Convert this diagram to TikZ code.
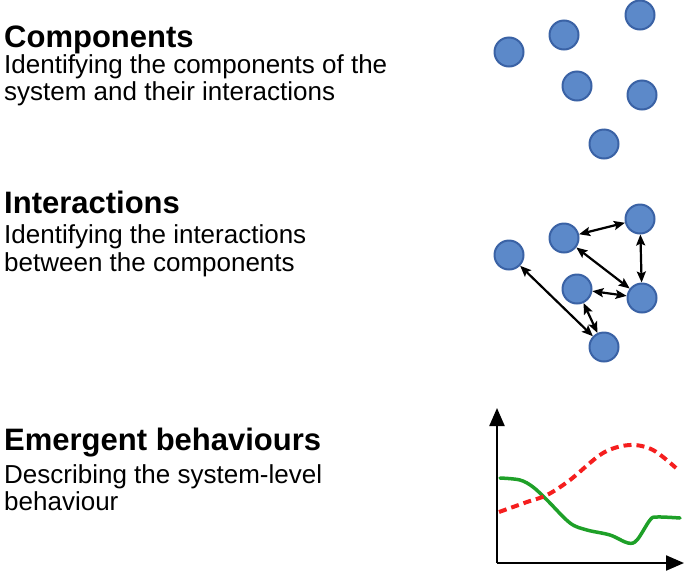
\documentclass[tikz,border=0pt]{standalone}
\usepackage{fontspec}
\setmainfont{Liberation Sans}
\usetikzlibrary{arrows.meta}
\definecolor{nodefill}{RGB}{92,137,201}
\definecolor{nodeedge}{RGB}{58,98,165}
\definecolor{curvegreen}{RGB}{30,160,40}
\definecolor{curvered}{RGB}{245,30,30}
\begin{document}
\begin{tikzpicture}[x=1pt,y=-1pt,
  heading/.style={anchor=base west,inner sep=0pt,font=\fontsize{31}{31}\selectfont\bfseries},
  bodyline/.style={anchor=base west,inner sep=0pt,font=\fontsize{26}{27}\selectfont},
  comp/.style={circle,fill=nodefill,draw=nodeedge,line width=2pt,minimum size=29pt,inner sep=0pt},
  link/.style={{Stealth[length=11pt,width=9pt,inset=2pt]}-{Stealth[length=11pt,width=9pt,inset=2pt]},line width=2.2pt,black},
  axis/.style={-{Triangle[length=18pt,width=15pt]},line width=2.2pt,black}]
\useasboundingbox (0,0) rectangle (685,571);
% text
\node[heading] (h1) at (4,47) {Components};
\node[bodyline] (b1a) at (4,73) {Identifying the components of the};
\node[bodyline] (b1b) at (4,100) {system and their interactions};
\node[heading] (h2) at (4,213) {Interactions};
\node[bodyline] (b2a) at (4,243) {Identifying the interactions};
\node[bodyline] (b2b) at (4,271) {between the components};
\node[heading] (h3) at (4,450) {Emergent behaviours};
\node[bodyline] (b3a) at (4,483) {Describing the system-level};
\node[bodyline] (b3b) at (4,510) {behaviour};
% components
\node[comp] (c1) at (509,52) {};
\node[comp] (c2) at (564,35) {};
\node[comp] (c3) at (640,15) {};
\node[comp] (c4) at (577,86) {};
\node[comp] (c5) at (642,95) {};
\node[comp] (c6) at (604,144) {};
% interactions
\node[comp] (d1) at (509,255) {};
\node[comp] (d2) at (564,238) {};
\node[comp] (d3) at (640,219) {};
\node[comp] (d4) at (577,289) {};
\node[comp] (d5) at (642,298) {};
\node[comp] (d6) at (604,347) {};
\draw[link] (d2) -- (d3);
\draw[link] (d3) -- (d5);
\draw[link] (d2) -- (d5);
\draw[link] (d4) -- (d5);
\draw[link] (d4) -- (d6);
\draw[link] (d1) -- (d6);
% chart
\coordinate (o) at (497,563);
\coordinate (ytip) at (497,408);
\coordinate (xtip) at (684,563);
\draw[axis] (o) -- (ytip);
\draw[axis] (o) -- (xtip);
\draw[curvegreen,line width=3.5pt,line cap=round] plot[smooth,tension=0.55] coordinates {(500,478) (520,480) (533,487) (547,500) (570,523) (587,530) (610,535) (628,543) (637,540) (650,520) (657,517) (680,518)};
\draw[curvered,line width=4pt,dash pattern=on 8pt off 5pt] plot[smooth,tension=0.55] coordinates {(499,512) (527,502) (547,495) (570,480) (603,453) (630,445) (653,450) (676,468)};
\end{tikzpicture}
\end{document}
